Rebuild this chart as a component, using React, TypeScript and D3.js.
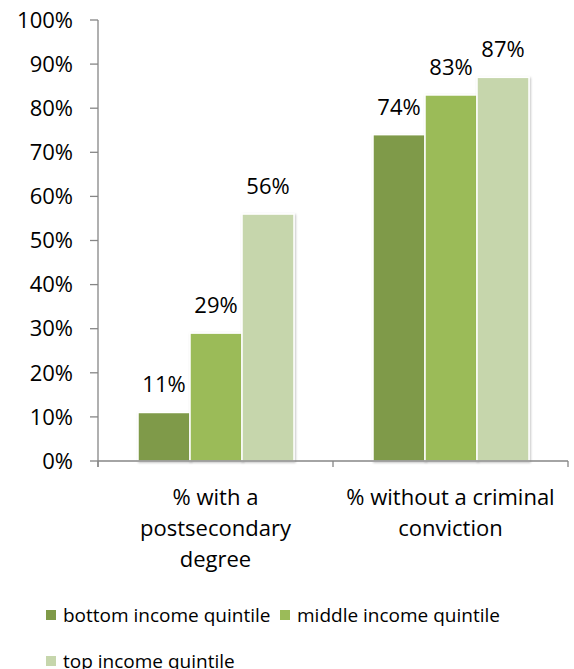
import React from "react";
import * as d3 from "d3";

const categories = [["% with a", "postsecondary", "degree"], ["% without a criminal", "conviction"]];
const categoryKeys = ["postsecondary", "conviction"];
const seriesNames = ["bottom income quintile", "middle income quintile", "top income quintile"];
const bottomValues = [11, 74];
const middleValues = [29, 83];
const topValues = [56, 87];
const yTicks = [0, 10, 20, 30, 40, 50, 60, 70, 80, 90, 100];
const colors = ["#7F9A48", "#9BBB59", "#C6D6AC"];

export default function App() {
  const W = 574, H = 669;
  const left = 98, right = 568, top = 20, bottom = 461;
  const font = "'Open Sans', 'Segoe UI', sans-serif";
  const y = d3.scaleLinear().domain([0, 100]).range([bottom, top]);
  const x0 = d3.scaleBand<string>().domain(categoryKeys).range([left, right]).paddingInner(0).paddingOuter(0);
  const x1 = d3.scaleBand<number>().domain([0, 1, 2]).range([40, x0.bandwidth() - 39]).padding(0);
  const series = [bottomValues, middleValues, topValues];

  return (
    <svg width={W} height={H} style={{ position: "absolute", left: 0, top: 0 }} fontFamily={font}>
      <defs>
        <filter id="sh" x="-10%" y="-10%" width="130%" height="120%">
          <feDropShadow dx="1" dy="1" stdDeviation="1" floodColor="#000" floodOpacity="0.25" />
        </filter>
      </defs>
      {/* y axis */}
      <line x1={left} x2={left} y1={top} y2={bottom + 6} stroke="#868686" strokeWidth={1.3} />
      {yTicks.map((t) => (
        <g key={t}>
          <line x1={left - 8} x2={left} y1={y(t)} y2={y(t)} stroke="#868686" strokeWidth={1.3} />
          <text x={73} y={y(t)} dy="0.35em" textAnchor="end" fontSize={22} fill="#000">{t}%</text>
        </g>
      ))}
      {/* bars */}
      {categoryKeys.map((c, ci) => (
        <g key={c} transform={`translate(${x0(c)},0)`}>
          {series.map((s, si) => (
            <g key={si}>
              <rect x={x1(si)} y={y(s[ci])} width={x1.bandwidth()} height={bottom - y(s[ci])}
                fill={colors[si]} stroke="#fff" strokeWidth={1.5} filter="url(#sh)" />
              <text x={(x1(si) as number) + x1.bandwidth() / 2}
                y={y(s[ci]) - 20} textAnchor="middle" fontSize={22} fill="#000">{s[ci]}%</text>
            </g>
          ))}
        </g>
      ))}
      {/* x axis */}
      <line x1={left} x2={right} y1={bottom} y2={bottom} stroke="#868686" strokeWidth={1.3} />
      {[left, left + x0.bandwidth(), right].map((v, i) => (
        <line key={i} x1={v} x2={v} y1={bottom} y2={bottom + 6} stroke="#868686" strokeWidth={1.3} />
      ))}
      {categoryKeys.map((c, ci) => (
        <text key={c} x={(x0(c) as number) + x0.bandwidth() / 2} y={505} textAnchor="middle" fontSize={22} fill="#000">
          {categories[ci].map((l, li) => (
            <tspan key={li} x={(x0(c) as number) + x0.bandwidth() / 2} dy={li === 0 ? 0 : 31}>{l}</tspan>
          ))}
        </text>
      ))}
      {/* legend */}
      {[
        { i: 0, x: 46, y: 615 },
        { i: 1, x: 280, y: 615 },
        { i: 2, x: 46, y: 661 },
      ].map(({ i, x, y: ly }) => (
        <g key={i}>
          <rect x={x} y={ly - 5} width={10} height={10} fill={colors[i]} />
          <text x={x + 17} y={ly} dy="0.35em" fontSize={19} fill="#000">{seriesNames[i]}</text>
        </g>
      ))}
    </svg>
  );
}
